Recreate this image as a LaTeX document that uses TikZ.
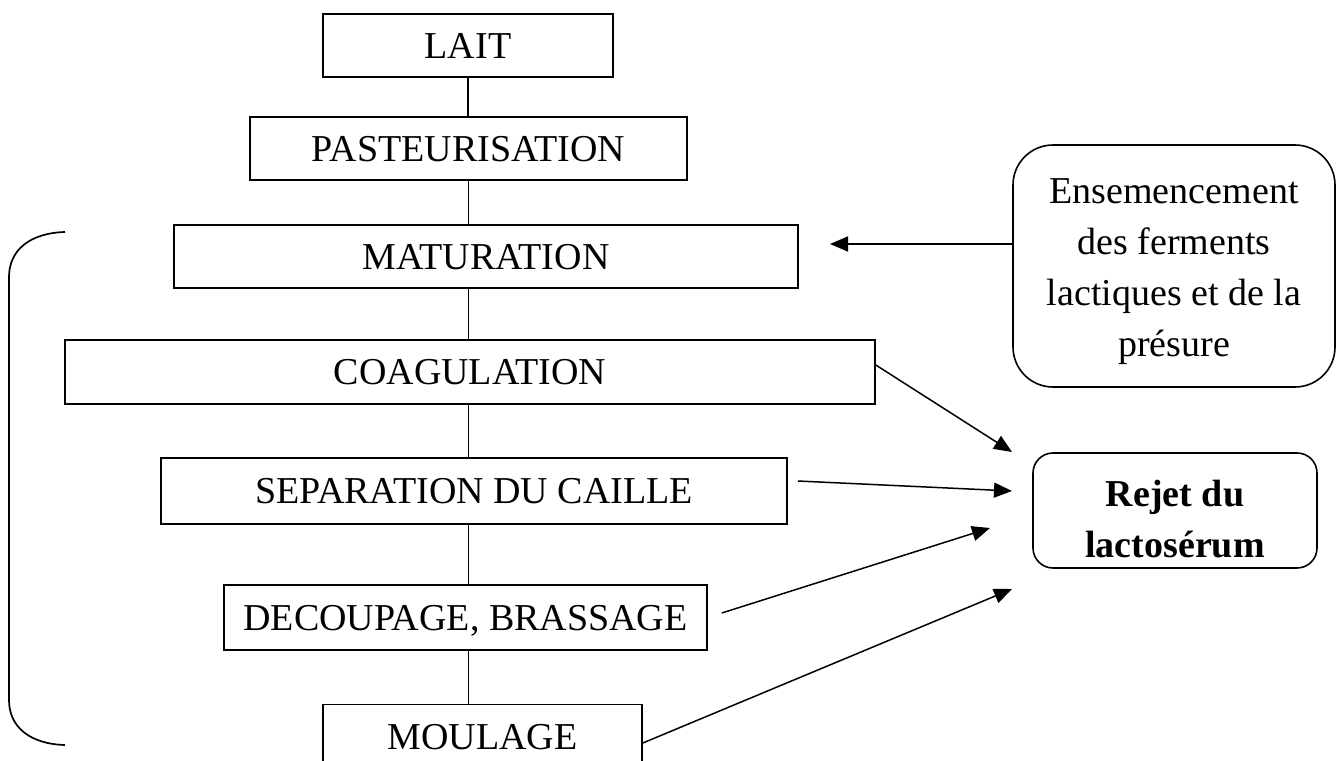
\documentclass[tikz,border=0pt]{standalone}
\usepackage{fontspec}
\setmainfont{Liberation Serif}
\usetikzlibrary{arrows.meta}
\begin{document}
\begin{tikzpicture}[x=1pt,y=-1pt,
  box/.style={draw, line width=1.6pt, inner sep=0pt, text height=25.2pt, text depth=0pt, font=\fontsize{38}{51}\selectfont},
  rbox/.style={draw, line width=1.6pt, inner sep=0pt, rounded corners=#1, align=center, font=\fontsize{38}{51}\selectfont},
  link/.style={line width=1.5pt},
  arr/.style={line width=1.5pt, -{Triangle[length=18pt,width=15pt]}},
  bracket/.style={line width=1.7pt}]
\useasboundingbox (0,0) rectangle (1338,760);
\clip (0,0) rectangle (1338,760);
% main column
\node[box, minimum width=290pt, minimum height=63pt] (lait) at (468,45.5) {LAIT};
\node[box, minimum width=437pt, minimum height=63pt] (past) at (468.5,148.5) {PASTEURISATION};
\node[box, minimum width=624pt, minimum height=63pt] (mat) at (486,256.5) {MATURATION};
\node[box, minimum width=810pt, minimum height=64pt] (coag) at (470,372) {COAGULATION};
\node[box, minimum width=626pt, minimum height=66pt] (sep) at (474,491) {SEPARATION DU CAILLE};
\node[box, minimum width=483pt, minimum height=65pt] (dec) at (465.5,617.5) {DECOUPAGE, BRASSAGE};
\node[box, minimum width=319pt, minimum height=65pt] (moul) at (482.5,737) {MOULAGE};
% side boxes
\node[rbox=40pt, minimum width=322pt, minimum height=242pt] (ens) at (1174,266)
  {\rule{0pt}{37pt}Ensemencement\\des ferments\\lactiques et de la\\présure};
\node[rbox=20pt, minimum width=284pt, minimum height=115pt, font=\fontsize{38}{51}\selectfont\bfseries] (rej) at (1175,510.5)
  {\rule{0pt}{44pt}Rejet du\\lactosérum};
% vertical links
\draw[link] (lait.south) -- (lait.south |- past.north);
\draw[link] (past.south) -- (past.south |- mat.north);
\draw[link] (past.south |- mat.south) -- (past.south |- coag.north);
\draw[link] (past.south |- coag.south) -- (past.south |- sep.north);
\draw[link] (past.south |- sep.south) -- (past.south |- dec.north);
\draw[link] (past.south |- dec.south) -- (past.south |- moul.north);
% arrow end points
\coordinate (tmat) at (830,244);
\coordinate (t1) at (1012,452);
\coordinate (t2) at (1012,491);
\coordinate (t3) at (990,528);
\coordinate (t4) at (1012,589);
% arrows
\draw[arr] ([yshift=22pt]ens.west) -- (tmat);
\draw[arr] ([yshift=7pt]coag.east) -- (t1);
\draw[arr] ([xshift=10pt,yshift=10pt]sep.east) -- (t2);
\draw[arr] ([xshift=14pt,yshift=4.5pt]dec.east) -- (t3);
\draw[arr] ([yshift=-6pt]moul.east) -- (t4);
% left bracket
\draw[bracket] (65,232) .. controls (30,233) and (9,250) .. (9,277)
  -- (9,700) .. controls (9,727) and (30,744) .. (65,745);
\end{tikzpicture}
\end{document}
